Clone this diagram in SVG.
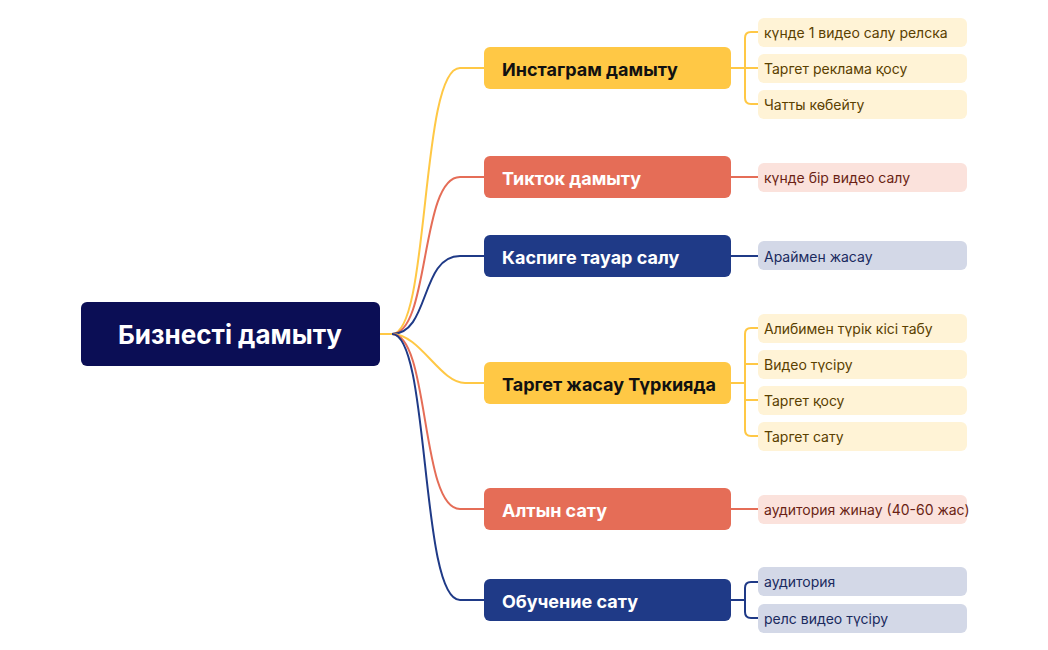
<svg xmlns="http://www.w3.org/2000/svg" width="1048" height="650" viewBox="0 0 1048 650">
<style>
text{font-family:Inter,"Noto Sans","Liberation Sans",sans-serif;dominant-baseline:central}
.root{font-size:26px;font-weight:700;fill:#fff}
.m{font-size:18px;font-weight:700}
.l{font-size:14px}
.c{fill:none;stroke-width:2}
.y{stroke:#FFC845}.r{stroke:#E56D57}.b{stroke:#1F3A87}
.ly{fill:#FFF3D6}.lr{fill:#FBE2DC}.lb{fill:#D3D8E7}
.ty{fill:#5A4000}.tr{fill:#6A1F14}.tb{fill:#1A2A5E}
</style>
<rect width="1048" height="650" fill="#fff"/>
<g id="connectors">
<path class="c y" d="M380 334 H392 C430 334 420 68 460 68 H484"/>
<path class="c r" d="M392 334 C430 334 420 177 460 177 H484"/>
<path class="c b" d="M392 334 C430 334 420 256 460 256 H484"/>
<path class="c y" d="M392 334 C420 334 440 383 465 383 H484"/>
<path class="c r" d="M392 334 C430 334 420 509 460 509 H484"/>
<path class="c b" d="M392 334 C430 334 420 600 460 600 H484"/>
<path class="c y" d="M731 68 H745 M758 32 H751 Q745 32 745 38 V98 Q745 104 751 104 H758 M745 68 H758"/>
<path class="c r" d="M731 177 H758"/>
<path class="c b" d="M731 256 H758"/>
<path class="c y" d="M731 383 H745 M758 328 H751 Q745 328 745 334 V430 Q745 436 751 436 H758 M745 364 Q745 364 758 364 M745 400 H758"/>
<path class="c r" d="M731 509 H758"/>
<path class="c b" d="M731 600 H745 M758 582 H751 Q745 582 745 588 V612 Q745 618 751 618 H758"/>
</g>
<g id="root"><rect x="81" y="302" width="299" height="64" rx="6" fill="#0B0E55"/><text class="root" x="230" y="334" text-anchor="middle">Бизнесті дамыту</text></g>
<g id="n1"><rect x="484" y="47" width="247" height="42" rx="6" fill="#FFC845"/><text class="m" x="502" y="69" fill="#111">Инстаграм дамыту</text></g>
<g id="n2"><rect x="484" y="156" width="247" height="42" rx="6" fill="#E56D57"/><text class="m" x="502" y="178" fill="#fff">Тикток дамыту</text></g>
<g id="n3"><rect x="484" y="235" width="247" height="42" rx="6" fill="#1F3A87"/><text class="m" x="502" y="257" fill="#fff">Каспиге тауар салу</text></g>
<g id="n4"><rect x="484" y="362" width="247" height="42" rx="6" fill="#FFC845"/><text class="m" x="502" y="384" fill="#111">Таргет жасау Түркияда</text></g>
<g id="n5"><rect x="484" y="488" width="247" height="42" rx="6" fill="#E56D57"/><text class="m" x="502" y="510" fill="#fff">Алтын сату</text></g>
<g id="n6"><rect x="484" y="579" width="247" height="42" rx="6" fill="#1F3A87"/><text class="m" x="502" y="601" fill="#fff">Обучение сату</text></g>
<g id="l1"><rect class="ly" x="758" y="18" width="209" height="29" rx="6"/><text class="l ty" x="764" y="32">күнде 1 видео салу релска</text></g>
<g id="l2"><rect class="ly" x="758" y="54" width="209" height="29" rx="6"/><text class="l ty" x="764" y="68">Таргет реклама қосу</text></g>
<g id="l3"><rect class="ly" x="758" y="90" width="209" height="29" rx="6"/><text class="l ty" x="764" y="104">Чатты көбейту</text></g>
<g id="l4"><rect class="lr" x="758" y="163" width="209" height="29" rx="6"/><text class="l tr" x="764" y="177">күнде бір видео салу</text></g>
<g id="l5"><rect class="lb" x="758" y="241" width="209" height="29" rx="6"/><text class="l tb" x="764" y="256">Араймен жасау</text></g>
<g id="l6"><rect class="ly" x="758" y="314" width="209" height="29" rx="6"/><text class="l ty" x="764" y="328">Алибимен түрік кісі табу</text></g>
<g id="l7"><rect class="ly" x="758" y="350" width="209" height="29" rx="6"/><text class="l ty" x="764" y="364">Видео түсіру</text></g>
<g id="l8"><rect class="ly" x="758" y="386" width="209" height="29" rx="6"/><text class="l ty" x="764" y="400">Таргет қосу</text></g>
<g id="l9"><rect class="ly" x="758" y="422" width="209" height="29" rx="6"/><text class="l ty" x="764" y="436">Таргет сату</text></g>
<g id="l10"><rect class="lr" x="758" y="495" width="209" height="29" rx="6"/><text class="l tr" x="764" y="509">аудитория жинау (40-60 жас)</text></g>
<g id="l11"><rect class="lb" x="758" y="567" width="209" height="29" rx="6"/><text class="l tb" x="764" y="581">аудитория</text></g>
<g id="l12"><rect class="lb" x="758" y="604" width="209" height="29" rx="6"/><text class="l tb" x="764" y="618">релс видео түсіру</text></g>
</svg>
